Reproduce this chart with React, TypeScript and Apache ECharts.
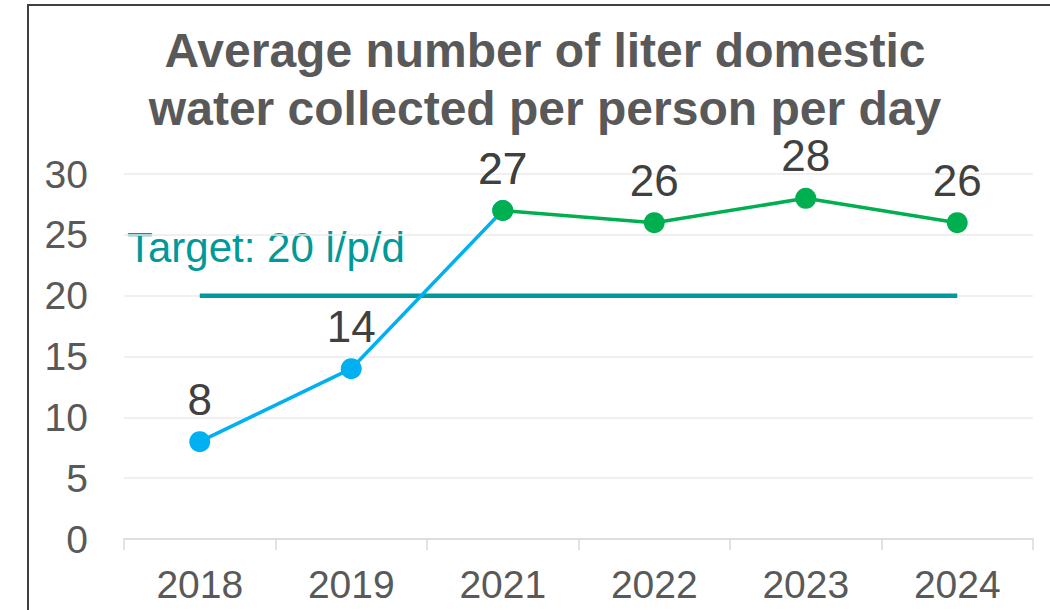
import React, { useEffect, useRef } from "react";
import * as echarts from "echarts";

const categories = ["2018", "2019", "2021", "2022", "2023", "2024"];
const earlyValues = [8, 14, 27, null, null, null];
const recentValues = [null, null, 27, 26, 28, 26];
const targetValues = [20, 20, 20, 20, 20, 20];
const yTicks = { min: 0, max: 30, interval: 5 };
const titleLines = ["Average number of liter domestic", "water collected per person per day"];
const targetText = "Target: 20 l/p/d";

const FONT = "'Liberation Sans', Arial, sans-serif";

export default function App() {
  const ref = useRef<HTMLDivElement>(null);
  useEffect(() => {
    document.body.style.margin = "0";
    const chart = echarts.init(ref.current!, null, { renderer: "svg" });
    const dataLabel = {
      show: true,
      position: "top",
      distance: 15,
      color: "#404040",
      fontSize: 44,
      lineHeight: 34,
      fontFamily: FONT,
    };
    const titleStyle = (text: string) => ({
      text,
      font: `bold 48px ${FONT}`,
      fill: "#595959",
      textAlign: "center",
      textVerticalAlign: "top",
      lineHeight: 48,
    });
    chart.setOption({
      animation: false,
      backgroundColor: "#ffffff",
      textStyle: { fontFamily: FONT },
      grid: { left: 124, right: 17, top: 174, bottom: 71, containLabel: false },
      xAxis: {
        type: "category",
        data: categories,
        boundaryGap: true,
        axisLine: { show: true, lineStyle: { color: "#d9d9d9", width: 1.5 } },
        axisTick: { show: true, interval: 0, length: 11, lineStyle: { color: "#d9d9d9", width: 1.5 } },
        axisLabel: { color: "#595959", fontSize: 39, fontFamily: FONT, margin: 26, interval: 0 },
        splitLine: { show: false },
      },
      yAxis: {
        type: "value",
        min: yTicks.min,
        max: yTicks.max,
        interval: yTicks.interval,
        axisLine: { show: false },
        axisTick: { show: false },
        axisLabel: { color: "#595959", fontSize: 39, fontFamily: FONT, margin: 36 },
        splitLine: { show: true, lineStyle: { color: "#ebebeb", width: 1.5 } },
      },
      graphic: [
        {
          type: "rect",
          shape: { x: 28, y: 5, width: 1100, height: 700 },
          style: { fill: "none", stroke: "#404040", lineWidth: 2 },
          z: 100,
          silent: true,
        },
        { type: "text", x: 545, y: 26, style: titleStyle(titleLines[0]) },
        { type: "text", x: 545, y: 84, style: titleStyle(titleLines[1]) },
        {
          type: "text",
          x: 127,
          y: 226,
          style: {
            text: targetText,
            font: `42px ${FONT}`,
            fill: "#009999",
            textAlign: "left",
            textVerticalAlign: "top",
          },
        },
      ],
      series: [
        {
          name: "Target",
          type: "line",
          data: targetValues,
          symbol: "none",
          lineStyle: { color: "#009999", width: 4.5 },
          z: 1,
        },
        {
          name: "Early",
          type: "line",
          data: earlyValues,
          symbol: "circle",
          symbolSize: 21,
          lineStyle: { color: "#00b0f0", width: 3.5 },
          itemStyle: { color: "#00b0f0" },
          label: dataLabel,
          z: 3,
        },
        {
          name: "Recent",
          type: "line",
          data: recentValues,
          symbol: "circle",
          symbolSize: 21,
          lineStyle: { color: "#00b050", width: 3.5 },
          itemStyle: { color: "#00b050" },
          label: dataLabel,
          z: 4,
        },
      ],
    });
    return () => chart.dispose();
  }, []);
  return <div ref={ref} style={{ width: 1050, height: 610 }} />;
}
